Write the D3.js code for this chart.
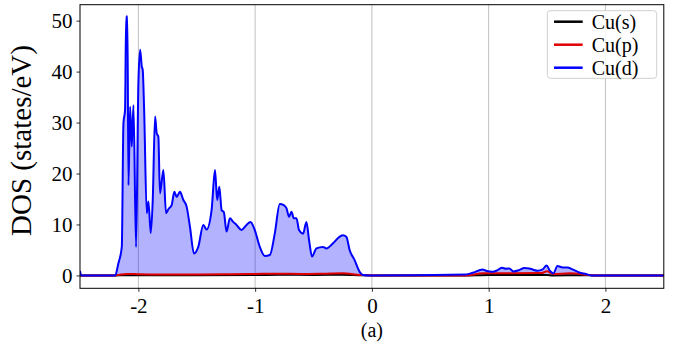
<!DOCTYPE html>
<html lang="en">
<head>
<meta charset="UTF-8">
<title>DOS</title>
<script src="https://d3js.org/d3.v7.min.js"></script>
<style>
  body { margin: 0; background: #fff; }
  svg text { font-family: "Liberation Serif", "DejaVu Serif", serif; fill: #000; }
  .grid line { stroke: #b0b0b0; stroke-width: 0.8px; }
</style>
</head>
<body>
<svg id="chart" width="679" height="348"></svg>
<script>
// Cu(d) projected DOS
const dE = [-2.5, -2.49, -2.199, -2.171, -2.142, -2.128, -2.114, -2.105, -2.094, -2.085, -2.071, -2.057, -2.042, -2.020,
  -2.000, -1.985, -1.971, -1.963, -1.951, -1.928, -1.914, -1.894, -1.877, -1.857, -1.843, -1.829, -1.815, -1.786,
  -1.763, -1.743, -1.715, -1.692, -1.672, -1.644, -1.615, -1.587, -1.558, -1.524, -1.487, -1.444, -1.416, -1.373,
  -1.344, -1.325, -1.307, -1.287, -1.268, -1.245, -1.216, -1.188, -1.159, -1.117, -1.074, -1.040, -1.003, -0.960,
  -0.917, -0.874, -0.832, -0.789, -0.755, -0.732, -0.709, -0.689, -0.669, -0.646, -0.624, -0.589, -0.561, -0.538,
  -0.513, -0.475, -0.419, -0.390, -0.333, -0.276, -0.248, -0.219, -0.191, -0.148, -0.105, -0.077, -0.02,
  0.807, 0.863, 0.949, 0.977, 1.034, 1.077, 1.114, 1.148, 1.177, 1.211, 1.262, 1.305, 1.348, 1.376, 1.419, 1.462,
  1.496, 1.525, 1.553, 1.590, 1.633, 1.675, 1.718, 1.775, 1.833, 1.876, 2.5];
const dDos = [0.9, 0, 0, 2.4, 5.6, 29.9, 32.5, 50.8, 50.8, 17.7, 33.1, 25.3, 33.4, 5.6,
  37.7, 44.3, 41.0, 40.4, 32.8, 12.2, 14.5, 8.3, 14.8, 31.2, 27.9, 27.2, 16.1, 20.7,
  12.2, 13.0, 13.8, 16.4, 15.4, 16.4, 14.8, 13.5, 9.5, 4.3, 5.6, 9.9, 9.0, 12.8,
  20.7, 14.8, 17.4, 12.8, 12.4, 8.6, 11.2, 10.5, 9.9, 8.9, 9.9, 10.5, 8.9, 5.6,
  3.8, 4.0, 8.2, 14.0, 13.8, 13.2, 11.5, 12.5, 11.2, 11.2, 8.9, 8.2, 10.5, 6.9,
  3.7, 5.3, 5.6, 5.3, 6.3, 7.6, 7.9, 7.6, 5.0, 3.0, 0.7, 0.1, 0,
  0.19, 0.52, 1.17, 0.91, 0.71, 1.04, 1.50, 1.30, 1.37, 0.78, 1.04, 1.43, 1.37, 1.17, 0.91, 1.17,
  1.96, 0.91, 0.39, 1.83, 1.57, 1.57, 1.17, 0.58, 0.26, 0, 0];

// Cu(p) projected DOS
const pE = [-2.5, -2.2, -2.15, -2.1, -2.0, -1.8, -1.5, -1.2, -1.0, -0.8, -0.6, -0.4, -0.25, -0.1, 0,
  0.8, 0.95, 1.2, 1.45, 1.5, 1.55, 1.7, 1.85, 1.9, 2.5];
const pDos = [0, 0, 0.2, 0.3, 0.25, 0.2, 0.2, 0.25, 0.3, 0.35, 0.3, 0.35, 0.4, 0.1, 0,
  0, 0.4, 0.4, 0.45, 0.8, 0.3, 0.4, 0.1, 0, 0];

// Cu(s) projected DOS
const sE = [-2.5, -2.2, -2.1, -1.5, -1.0, -0.8, -0.5, -0.25, -0.1, 0, 0.8, 1.0, 1.5, 1.55, 1.8, 1.9, 2.5];
const sDos = [0, 0, 0.05, 0.05, 0.08, 0.12, 0.1, 0.15, 0.05, 0, 0, 0.1, 0.1, 0.0, 0.05, 0, 0];

const xTicks = [-2, -1, 0, 1, 2];
const yTicks = [0, 10, 20, 30, 40, 50];
const seriesNames = ["Cu(s)", "Cu(p)", "Cu(d)"];
const seriesColors = ["#000000", "#e00000", "#0000ff"];

const svg = d3.select("#chart");
const margin = { top: 4.7, right: 15.2, bottom: 59.7, left: 80 };
const width = 679 - margin.left - margin.right;
const height = 348 - margin.top - margin.bottom;
const g = svg.append("g").attr("transform", `translate(${margin.left},${margin.top})`);

const x = d3.scaleLinear().domain([-2.5, 2.5]).range([0, width]);
const y = d3.scaleLinear().domain([-2.53, 53.13]).range([height, 0]);

g.append("defs").append("clipPath").attr("id", "clip")
  .append("rect").attr("width", width).attr("height", height);

// gridlines
g.append("g").attr("class", "grid")
  .selectAll("line").data(xTicks).join("line")
  .attr("x1", d => x(d)).attr("x2", d => x(d))
  .attr("y1", 0).attr("y2", height);

const plot = g.append("g").attr("clip-path", "url(#clip)");

const pts = (es, vs) => es.map((e, i) => [e, vs[i]]);
const dData = pts(dE, dDos);

plot.append("path").datum(dData)
  .attr("fill", "rgb(0,0,255)").attr("fill-opacity", 0.3)
  .attr("d", d3.area().curve(d3.curveMonotoneX).x(d => x(d[0])).y0(y(0)).y1(d => y(d[1])));

const line = d3.line().curve(d3.curveMonotoneX).x(d => x(d[0])).y(d => y(d[1]));
[pts(sE, sDos), pts(pE, pDos), dData].forEach((data, i) => {
  plot.append("path").datum(data)
    .attr("fill", "none").attr("stroke", seriesColors[i])
    .attr("stroke-width", 2).attr("stroke-linejoin", "round")
    .attr("d", line);
});

// axes
const xAxis = d3.axisBottom(x).tickValues(xTicks).tickSize(3.5).tickPadding(5).tickFormat(d => String(d));
const yAxis = d3.axisLeft(y).tickValues(yTicks).tickSize(3.5).tickPadding(4).tickFormat(d => String(d));

const gx = g.append("g").attr("transform", `translate(0,${height})`).call(xAxis);
const gy = g.append("g").call(yAxis);
[gx, gy].forEach(a => {
  a.select(".domain").remove();
  a.selectAll("line").attr("stroke", "#000").attr("stroke-width", 0.8);
  a.selectAll("text").style("font-size", "21px");
});
gx.selectAll("text").attr("dy", "0.75em");

// frame
g.append("rect").attr("width", width).attr("height", height)
  .attr("fill", "none").attr("stroke", "#000").attr("stroke-width", 1);

// labels
svg.append("text")
  .attr("transform", `translate(31,${margin.top + height / 2 - 6}) rotate(-90)`)
  .attr("text-anchor", "middle")
  .style("font-size", "29px")
  .text("DOS (states/eV)");

svg.append("text")
  .attr("x", margin.left + x(0)).attr("y", 337)
  .attr("text-anchor", "middle")
  .style("font-size", "20px")
  .text("(a)");

// legend
const leg = svg.append("g").attr("transform", "translate(547.3,10.7)");
leg.append("rect").attr("width", 109.4).attr("height", 67.6)
  .attr("rx", 3).attr("fill", "#fff").attr("fill-opacity", 0.8)
  .attr("stroke", "#d0d0d0").attr("stroke-width", 1);
seriesNames.forEach((name, i) => {
  const yy = 11 + i * 23;
  leg.append("line").attr("x1", 6.7).attr("x2", 35.4).attr("y1", yy).attr("y2", yy)
    .attr("stroke", seriesColors[i]).attr("stroke-width", 2.5);
  leg.append("text").attr("x", 44.4).attr("y", yy).attr("dy", "0.35em")
    .style("font-size", "20px").text(name);
});
</script>
</body>
</html>
